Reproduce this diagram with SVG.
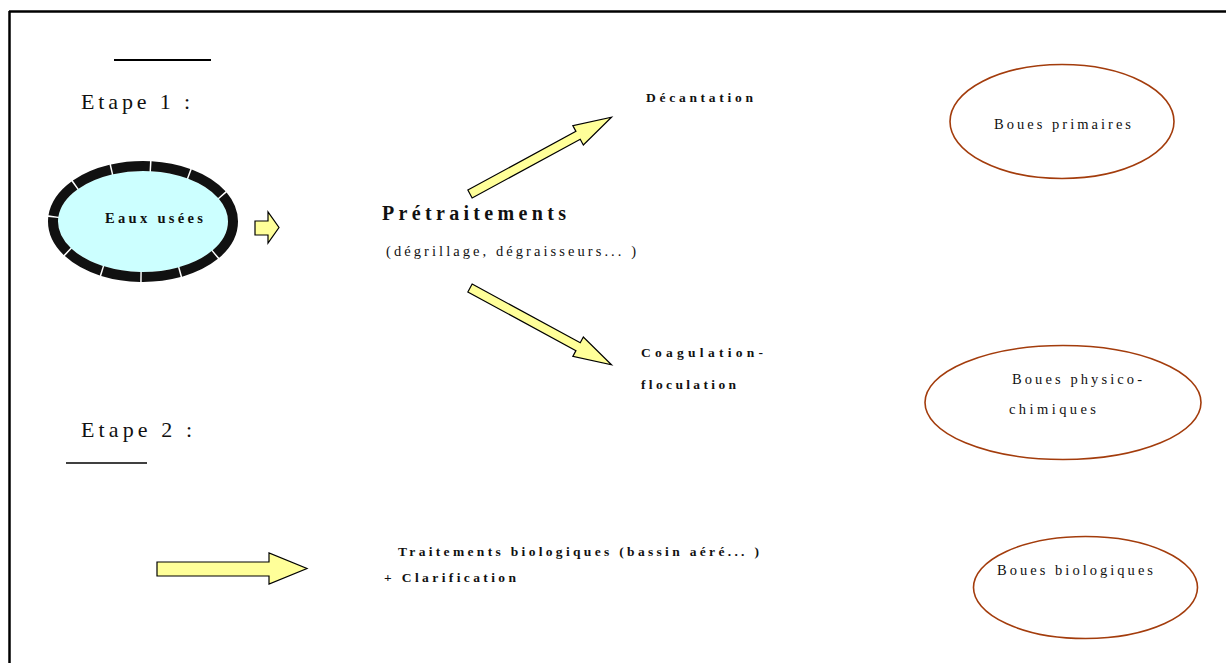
<svg xmlns="http://www.w3.org/2000/svg" width="1226" height="663" viewBox="0 0 1226 663">
<style>
text{font-family:"Liberation Serif","Times New Roman",serif;fill:#111}
.b{font-weight:bold}
.boue{fill:#fff;stroke:#a33c0c;stroke-width:1.6}
.arr{fill:#ffff99;stroke:#000;stroke-width:1.2;stroke-linejoin:miter}
</style>
<rect width="1226" height="663" fill="#fff"/>
<g id="frame" stroke="#000" stroke-width="2.5" fill="none">
<line x1="9" y1="11.5" x2="1226" y2="11.5"/>
<line x1="9.5" y1="11" x2="9.5" y2="663"/>
</g>
<g id="etape1">
<line x1="114" y1="60" x2="211" y2="60" stroke="#000" stroke-width="2"/>
<text x="81" y="109" font-size="22" textLength="109" lengthAdjust="spacing">Etape 1 :</text>
</g>
<g id="etape2">
<text x="81" y="437" font-size="22" textLength="111" lengthAdjust="spacing">Etape 2 :</text>
<line x1="66" y1="463" x2="147" y2="463" stroke="#000" stroke-width="1.5"/>
</g>
<g id="eaux">
<ellipse cx="143" cy="221.5" rx="90" ry="55.5" fill="#ccffff" stroke="#fff" stroke-width="10"/>
<ellipse cx="143" cy="221.5" rx="90" ry="55.5" fill="none" stroke="#111" stroke-width="10" stroke-dasharray="38 1.5"/>
<text class="b" x="105" y="223" font-size="14.5" textLength="98" lengthAdjust="spacing">Eaux usées</text>
</g>
<g id="pretraitements">
<text class="b" x="382" y="220" font-size="20" textLength="184" lengthAdjust="spacing">Prétraitements</text>
<text x="386" y="256" font-size="14.5" textLength="250" lengthAdjust="spacing">(dégrillage, dégraisseurs... )</text>
</g>
<g id="decantation">
<text class="b" x="646" y="102" font-size="13.5" textLength="107" lengthAdjust="spacing">Décantation</text>
</g>
<g id="coagulation">
<text class="b" x="641" y="357" font-size="13.5" textLength="122" lengthAdjust="spacing">Coagulation-</text>
<text class="b" x="641" y="389" font-size="13.5" textLength="95" lengthAdjust="spacing">floculation</text>
</g>
<g id="biologique">
<text class="b" x="398" y="556" font-size="13.5" textLength="361" lengthAdjust="spacing">Traitements biologiques (bassin aéré... )</text>
<text class="b" x="384" y="582" font-size="13.5" textLength="132" lengthAdjust="spacing">+ Clarification</text>
</g>
<g id="boues-primaires">
<ellipse class="boue" cx="1062" cy="121.5" rx="112" ry="57"/>
<text x="994" y="129" font-size="14.5" textLength="137" lengthAdjust="spacing">Boues primaires</text>
</g>
<g id="boues-physico">
<ellipse class="boue" cx="1063" cy="402.5" rx="138" ry="57"/>
<text x="1012" y="384" font-size="14.5" textLength="130" lengthAdjust="spacing">Boues physico-</text>
<text x="1009" y="414" font-size="14.5" textLength="87" lengthAdjust="spacing">chimiques</text>
</g>
<g id="boues-biologiques">
<ellipse class="boue" cx="1085.5" cy="587.5" rx="112" ry="51"/>
<text x="997" y="575" font-size="14.5" textLength="156" lengthAdjust="spacing">Boues biologiques</text>
</g>
<g id="connectors">
<polygon class="arr" points="255,221 268,221 268,212 279,227.5 268,243 268,235 255,235"/>
<polygon class="arr" transform="translate(470,194) rotate(-28.5)" points="0,-4.5 123,-4.5 123,-11 161,0 123,11 123,4.5 0,4.5"/>
<polygon class="arr" transform="translate(470,288) rotate(28.5)" points="0,-4.5 123,-4.5 123,-11 161,0 123,11 123,4.5 0,4.5"/>
<polygon class="arr" points="157,562 269,562 269,553 307,568.5 269,584 269,576 157,576"/>
</g>
</svg>
